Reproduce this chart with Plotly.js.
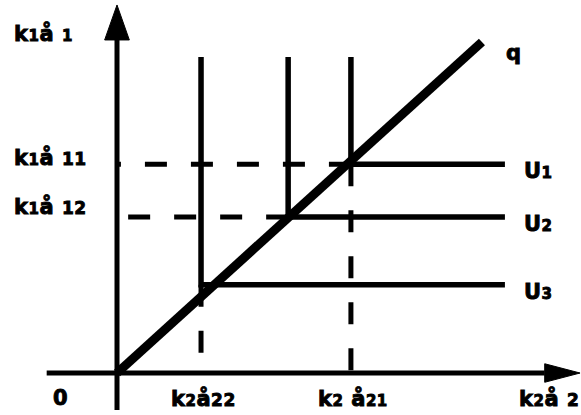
<!DOCTYPE html>
<html>
<head>
<meta charset="utf-8">
<script src="https://cdn.plot.ly/plotly-3.0.1.min.js"></script>
<style>html,body{margin:0;padding:0;background:#fff;}#chart{width:581px;height:415px;}</style>
</head>
<body>
<div id="chart"></div>
<script>
// ---- data (arbitrary units, origin = 0) ----
const rayX = [0, 10.64];          // expansion path q
const rayY = [0, 9.65];
const curveNames = ['U1', 'U2', 'U3'];
const cornerX = [6.82, 4.99, 2.45];   // kink x of each L-shaped isoquant
const cornerY = [6.09, 4.55, 2.57];   // kink y of each L-shaped isoquant
const curveTop = 9.21;                // top of vertical arms
const curveRight = 11.31;             // right end of horizontal arms
const dashedX = [6.82, 2.45];         // x positions projected to horizontal axis
const dashedXY = [6.09, 2.57];
const dashedY = [6.09, 4.55];         // y positions projected to vertical axis
const dashedYX = [6.82, 4.99];
const xTickLabels = ['k2å22', 'k2 å21'];
const yTickLabels = ['k1å 11', 'k1å 12'];
const xAxisExt = [-2.05, 12.47, 13.50];  // start, arrow base, arrow tip
const yAxisExt = [-1.08, 9.71, 10.73];
const xRange = [-3.411, 13.528];
const yRange = [-1.224, 10.875];

const F = '"DejaVu Sans", "Liberation Sans", Arial, sans-serif';
const big = 21, small = 15;
const sp = (t, s) => '<span style="font-size:' + s + 'px">' + t + '</span>';
const ST = 'letter-spacing:0.5px;stroke:#000;stroke-width:0.9px';
const wrap = t => '<span style="' + ST + '">' + t + '</span>';

const traces = [];
// axes
traces.push({x: [xAxisExt[0], xAxisExt[1]], y: [0, 0], mode: 'lines', line: {color: '#000', width: 5}});
traces.push({x: [0, 0], y: [yAxisExt[0], yAxisExt[1]], mode: 'lines', line: {color: '#000', width: 5}});
// arrow heads
const hw = 0.27, vw = 0.36;
traces.push({x: [xAxisExt[1], xAxisExt[2], xAxisExt[1], xAxisExt[1]], y: [hw, 0, -hw, hw], mode: 'lines', fill: 'toself', fillcolor: '#000', line: {color: '#000', width: 1}});
traces.push({x: [-vw, 0, vw, -vw], y: [yAxisExt[1], yAxisExt[2], yAxisExt[1], yAxisExt[1]], mode: 'lines', fill: 'toself', fillcolor: '#000', line: {color: '#000', width: 1}});
// dashed projections (drawn from kink toward axis)
dashedY.forEach((v, i) => traces.push({x: [dashedYX[i], 0], y: [v, v], mode: 'lines', line: {color: '#000', width: 5, dash: '22px,24px'}}));
dashedX.forEach((v, i) => traces.push({x: [v, v], y: [dashedXY[i], 0], mode: 'lines', line: {color: '#000', width: 5, dash: '22px,24px'}}));
// L-shaped curves
cornerX.forEach((cx, i) => traces.push({x: [cx, cx, curveRight], y: [curveTop, cornerY[i], cornerY[i]], mode: 'lines', line: {color: '#000', width: 5.5}}));
// ray q
traces.push({x: rayX, y: rayY, mode: 'lines', line: {color: '#000', width: 9}});

const ann = [];
const base = {showarrow: false, font: {family: F, size: big, color: '#000', weight: 'bold'}};
// y-axis label
ann.push(Object.assign({}, base, {x: xRange[0], y: yAxisExt[1], xanchor: 'left', yanchor: 'middle', xshift: 12, yshift: 6,
  text: wrap('k' + sp('1', small) + 'å ' + sp('1', small))}));
yTickLabels.forEach((t, i) => {
  const m = t.match(/^k(\d)å (\d+)$/);
  ann.push(Object.assign({}, base, {x: xRange[0], y: dashedY[i], xanchor: 'left', yanchor: 'middle', xshift: 12, yshift: i === 0 ? 7 : 10,
    text: wrap('k' + sp(m[1], small) + 'å ' + sp(m[2], 17))}));
});
// x labels
ann.push(Object.assign({}, base, {x: 0, y: 0, xanchor: 'center', yanchor: 'middle', xshift: -57, yshift: -25, text: wrap('0')}));
ann.push(Object.assign({}, base, {x: dashedX[1], y: 0, xanchor: 'center', yanchor: 'middle', xshift: 2, yshift: -25,
  text: wrap('k' + sp('2', small) + 'å' + sp('22', 17))}));
ann.push(Object.assign({}, base, {x: dashedX[0], y: 0, xanchor: 'center', yanchor: 'middle', xshift: 2, yshift: -25,
  text: wrap('k' + sp('2', small) + ' å' + sp('21', small))}));
ann.push(Object.assign({}, base, {x: xRange[1], y: 0, xanchor: 'right', yanchor: 'middle', xshift: 0, yshift: -25,
  text: wrap('k' + sp('2', small) + 'å ' + sp('2', 17))}));
// q
ann.push(Object.assign({}, base, {x: rayX[1], y: rayY[1], xanchor: 'left', yanchor: 'middle', xshift: 22, yshift: -11, text: wrap('q')}));
// U labels
curveNames.forEach((n, i) => ann.push(Object.assign({}, base, {x: curveRight, y: cornerY[i], xanchor: 'left', yanchor: 'middle', xshift: 17, yshift: -7,
  text: wrap(n[0] + sp(n.slice(1), small))})));

const layout = {
  width: 581, height: 415, margin: {l: 0, r: 0, t: 0, b: 0},
  paper_bgcolor: '#fff', plot_bgcolor: '#fff', showlegend: false,
  xaxis: {range: xRange, visible: false, fixedrange: true},
  yaxis: {range: yRange, visible: false, fixedrange: true},
  annotations: ann
};
Plotly.newPlot('chart', traces, layout, {staticPlot: true, displayModeBar: false});
</script>
</body>
</html>
